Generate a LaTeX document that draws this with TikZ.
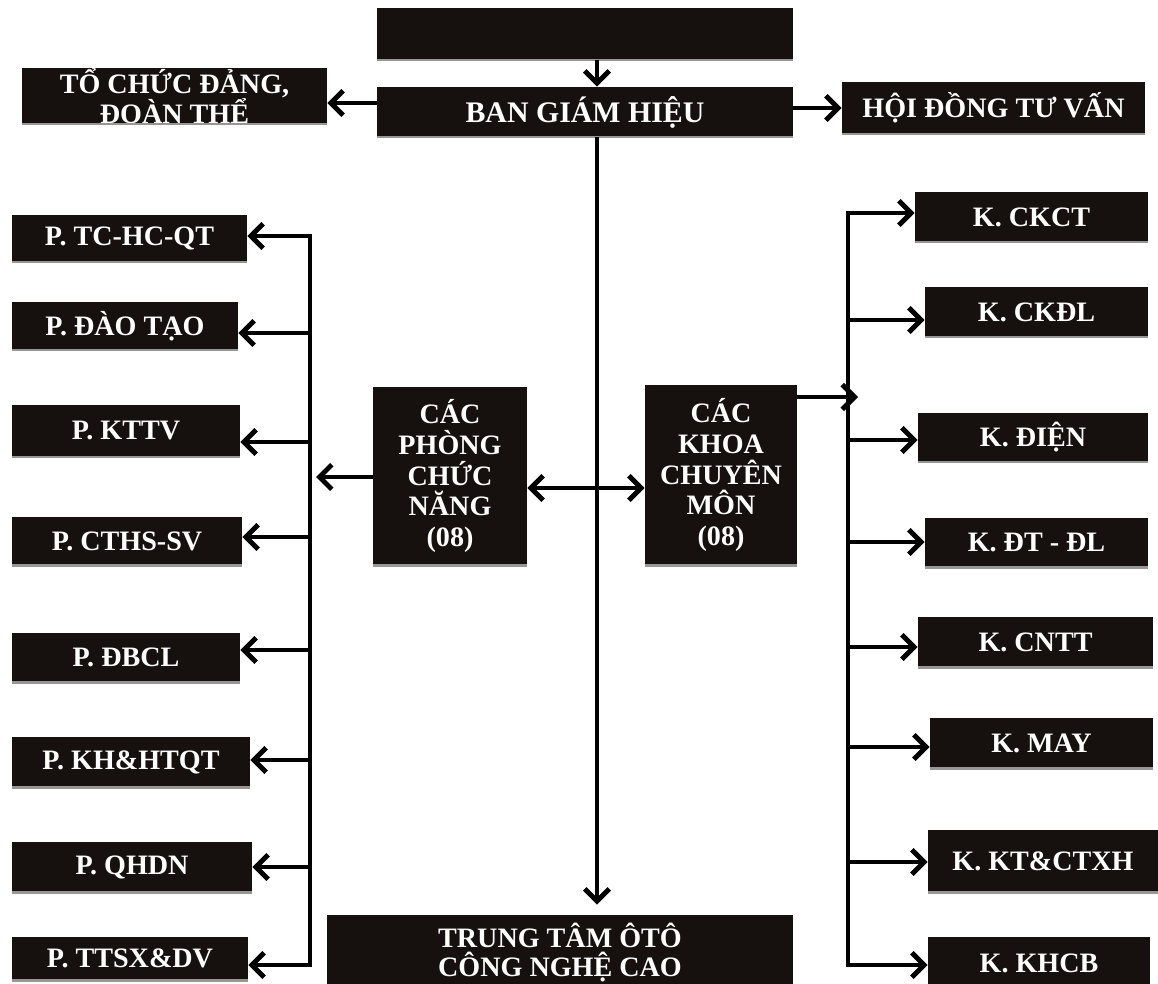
\documentclass[tikz,border=0pt]{standalone}
\usepackage{fontspec}
\setmainfont{Liberation Serif}
\usetikzlibrary{arrows.meta}
\definecolor{boxfill}{RGB}{22,17,15}
\definecolor{shadowgray}{RGB}{150,150,150}
\tikzset{
  box/.style={fill=boxfill, text=white, font=\bfseries\fontsize{16}{17}\selectfont, align=center, inner sep=0pt, draw=none},
  bigtxt/.style={font=\bfseries\fontsize{17}{18}\selectfont},
  ln/.style={line width=2.8pt, line join=miter},
  barb/.tip={Straight Barb[length=7pt,width=14pt]},
  arr/.style={ln, -barb},
  darr/.style={ln, barb-barb},
}
\newcommand\mkbox[7][]{%
  \node[box, #1, minimum width={(#5-#3)*0.02cm}, minimum height={(#6-#4)*0.02cm}] (#2) at ({(#3+#5)/2},{(#4+#6)/2}) {#7};
  \draw[shadowgray, line width=1.3pt] (#2.south west) -- (#2.south east);}
\begin{document}
\begin{tikzpicture}[x=0.02cm,y=-0.02cm]
\useasboundingbox[fill=white] (0,0) rectangle (1158,983);
% top row
\mkbox{top}{377}{8}{793}{60}{}
\mkbox[bigtxt]{bgh}{377}{87}{793}{137}{BAN GIÁM HIỆU}
\mkbox{tcd}{22}{68}{327}{124}{TỔ CHỨC ĐẢNG,\\ĐOÀN THỂ}
\mkbox{hdtv}{842}{82}{1145}{134}{HỘI ĐỒNG TƯ VẤN}
% middle
\mkbox{pcn}{373}{387}{527}{565}{CÁC\\[0.5pt]PHÒNG\\[0.5pt]CHỨC\\[0.5pt]NĂNG\\[0.5pt](08)}
\mkbox{kcm}{645}{385}{797}{565}{CÁC\\[0.5pt]KHOA\\[0.5pt]CHUYÊN\\[0.5pt]MÔN\\[0.5pt](08)}
\mkbox{tto}{327}{915}{793}{990}{TRUNG TÂM ÔTÔ\\CÔNG NGHỆ CAO}
% left column
\mkbox{p1}{12}{215}{247}{262}{P. TC-HC-QT}
\mkbox{p2}{12}{302}{238}{350}{P. ĐÀO TẠO}
\mkbox{p3}{12}{405}{240}{457}{P. KTTV}
\mkbox{p4}{12}{517}{242}{565}{P. CTHS-SV}
\mkbox{p5}{12}{633}{240}{682}{P. ĐBCL}
\mkbox{p6}{12}{737}{250}{787}{P. KH\&HTQT}
\mkbox{p7}{12}{842}{252}{892}{P. QHDN}
\mkbox{p8}{12}{937}{248}{980}{P. TTSX\&DV}
% right column
\mkbox{k1}{915}{192}{1148}{242}{K. CKCT}
\mkbox{k2}{925}{287}{1148}{337}{K. CKĐL}
\mkbox{k3}{918}{413}{1148}{462}{K. ĐIỆN}
\mkbox{k4}{925}{518}{1148}{567}{K. ĐT - ĐL}
\mkbox{k5}{918}{617}{1153}{667}{K. CNTT}
\mkbox{k6}{930}{718}{1153}{768}{K. MAY}
\mkbox{k7}{928}{830}{1158}{892}{K. KT\&CTXH}
\mkbox{k8}{928}{937}{1150}{990}{K. KHCB}
% coordinates
\coordinate (tx) at (597,0);
\coordinate (yA) at (0,103);
\coordinate (yB) at (0,108);
\coordinate (M) at (0,488);
\coordinate (L0) at (316,477);
\coordinate (R0) at (858,397);
\coordinate (L1) at (310,236);
\coordinate (L2) at (310,333);
\coordinate (L3) at (310,442);
\coordinate (L4) at (310,537);
\coordinate (L5) at (310,650);
\coordinate (L6) at (310,760);
\coordinate (L7) at (310,867);
\coordinate (L8) at (310,965);
\coordinate (R1) at (848,213);
\coordinate (R2) at (848,320);
\coordinate (R3) at (848,440);
\coordinate (R4) at (848,542);
\coordinate (R5) at (848,647);
\coordinate (R6) at (848,747);
\coordinate (R7) at (848,862);
\coordinate (R8) at (848,965);
% trunk
\draw[arr] (top.south -| tx) -- (bgh.north -| tx);
\draw[arr, shorten >=0.2cm] (bgh.south -| tx) -- (tto.north -| tx);
\draw[arr] (bgh.west |- yA) -- (tcd.east |- yA);
\draw[arr] (bgh.east |- yB) -- (hdtv.west |- yB);
% middle links
\draw[arr] (pcn.west |- L0) -- (L0);
\draw[darr] (pcn.east |- M) -- (kcm.west |- M);
\draw[arr] (kcm.east |- R0) -- (R0);
% left bus
\draw[darr] (p1.east |- L1) -- (L1) -- (L8) -- (p8.east |- L8);
\foreach \i in {2,...,7} {\draw[arr] (L\i) -- (p\i.east |- L\i);}
% right bus
\draw[darr] (k1.west |- R1) -- (R1) -- (R8) -- (k8.west |- R8);
\foreach \i in {2,...,7} {\draw[arr] (R\i) -- (k\i.west |- R\i);}
\end{tikzpicture}
\end{document}
